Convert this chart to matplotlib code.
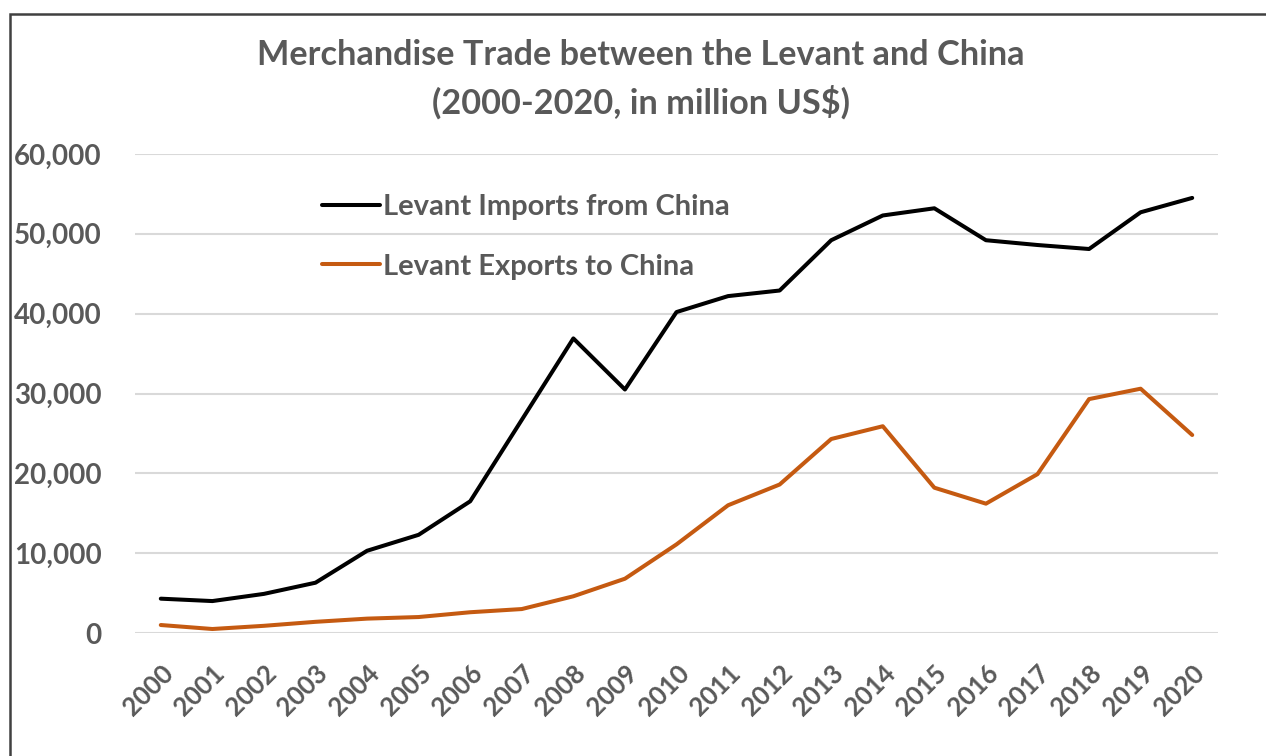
import matplotlib
matplotlib.use("Agg")
import matplotlib.pyplot as plt
from matplotlib.patches import Rectangle

years = [str(y) for y in range(2000, 2021)]
imports_from_china = [4300, 4000, 4900, 6300, 10300, 12300, 16500, 26700, 36900, 30500,
                      40200, 42200, 42900, 49200, 52300, 53200, 49200, 48600, 48100, 52700, 54500]
exports_to_china = [1000, 500, 900, 1400, 1800, 2000, 2600, 3000, 4600, 6800,
                    11100, 16000, 18600, 24300, 25900, 18200, 16200, 19900, 29300, 30600, 24800]
yticks = [0, 10000, 20000, 30000, 40000, 50000, 60000]

GRAY = "#595959"
FONT = "Lato"
plt.rcParams['font.family'] = [FONT, 'DejaVu Sans']

W, H = 1266, 756
fig = plt.figure(figsize=(W / 100, H / 100), dpi=100)
fig.patch.set_facecolor("white")

ax = fig.add_axes([135 / W, 1 - 633 / H, (1218 - 135) / W, (633 - 154) / H])
x = list(range(len(years)))
ax.plot(x, imports_from_china, color="black", lw=2.9, label="Levant Imports from China",
        solid_joinstyle="round", solid_capstyle="round", zorder=3)
ax.plot(x, exports_to_china, color="#C55A11", lw=2.9, label="Levant Exports to China",
        solid_joinstyle="round", solid_capstyle="round", zorder=3)

ax.set_xlim(-0.5, len(years) - 0.5)
ax.set_ylim(0, 60000)
ax.set_yticks(yticks)
ax.set_yticklabels([f"{v:,}" for v in yticks])
ax.set_xticks(x)
ax.set_xticklabels(years, rotation=45, ha="right", rotation_mode="anchor")
for s in ax.spines.values():
    s.set_visible(False)
ax.grid(axis="y", color="#D9D9D9", lw=1.5)
ax.set_axisbelow(True)
ax.tick_params(axis="both", length=0, labelcolor=GRAY)
ax.tick_params(axis="y", pad=24, labelsize=20)
ax.tick_params(axis="x", pad=20, labelsize=18.5)
for lbl in ax.get_xticklabels() + ax.get_yticklabels():
    lbl.set_fontweight("bold")

leg = ax.legend(loc="upper left", bbox_to_anchor=(322 / W, 1 - 194 / H), bbox_transform=fig.transFigure,
                frameon=False, fontsize=21, handlelength=2.0, handletextpad=0.08,
                labelspacing=1.15, borderpad=0, borderaxespad=0)
for t in leg.get_texts():
    t.set_color(GRAY)
    t.set_fontweight("bold")

fig.text(641 / W, 1 - 55 / H, "Merchandise Trade between the Levant and China",
         ha="center", va="center", fontsize=24.7, fontweight="bold", color=GRAY)
fig.text(641 / W, 1 - 102 / H, "(2000-2020, in million US$)",
         ha="center", va="center", fontsize=24.7, fontweight="bold", color=GRAY)

fig.patches.append(Rectangle((10 / W, -0.05), 1.2, (1 - 14 / H) + 0.05, transform=fig.transFigure,
                             fill=False, edgecolor="#404040", lw=1.8, zorder=0))

fig.savefig("out.png", dpi=100)
